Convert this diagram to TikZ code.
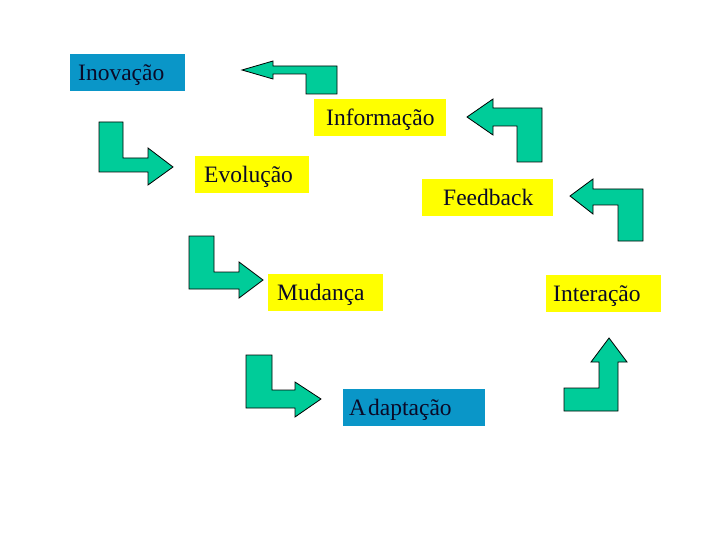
\documentclass[tikz,border=0pt]{standalone}
\usepackage{fontspec}
\setmainfont{Liberation Serif}
\newfontfamily\tnr{Liberation Serif}
\definecolor{arrowgreen}{RGB}{0,204,153}
\definecolor{boxyellow}{RGB}{255,255,0}
\definecolor{boxblue}{RGB}{10,150,200}
\definecolor{textdark}{RGB}{10,10,40}
\tikzset{
  tbox/.style n args={3}{fill=#1, anchor=north west, inner sep=0pt,
     text width=#2, minimum height=37pt, text height=16pt, text depth=0pt,
     align=left, text=textdark, font=\tnr\fontsize{23.5}{28}\selectfont, execute at begin node={\hspace*{#3}}},
  barrow/.style={fill=arrowgreen, draw=black, line width=0.8pt, line join=miter}
}
\begin{document}
\begin{tikzpicture}[x=1pt,y=-1pt]
\useasboundingbox (0,0) rectangle (720,540);
% boxes
\node[tbox={boxblue}{115pt}{8pt}] (inov) at (70,54) {\mbox{Inovação}};
\node[tbox={boxyellow}{132pt}{12pt}] (info) at (314,99) {\mbox{Informação}};
\node[tbox={boxyellow}{114pt}{9pt}] (evol) at (195,156) {\mbox{Evolução}};
\node[tbox={boxyellow}{131pt}{21pt}] (feed) at (422,179) {\mbox{Feedback}};
\node[tbox={boxyellow}{115pt}{9pt}] (muda) at (268,274) {\mbox{Mudança}};
\node[tbox={boxblue}{142pt}{6pt}] (adap) at (343,389) {\mbox{A\kern2pt daptação}};
\node[tbox={boxyellow}{115pt}{7pt}] (inter) at (546,275) {\mbox{Interação}};
% bent block arrows
\draw[barrow] (242,70) -- (273,61) -- (273,66) -- (337,66) -- (337,94) -- (306,94) -- (306,74) -- (273,74) -- (273,79) -- cycle;
\draw[barrow] (467,117) -- (493,99) -- (493,108) -- (542,108) -- (542,162) -- (517,162) -- (517,126) -- (493,126) -- (493,135) -- cycle;
\draw[barrow] (570,196) -- (593,179) -- (593,189) -- (643,189) -- (643,241) -- (618,241) -- (618,205) -- (593,205) -- (593,214) -- cycle;
\draw[barrow] (609,338) -- (627,362) -- (618,362) -- (618,411) -- (564,411) -- (564,388) -- (599,388) -- (599,362) -- (591,362) -- cycle;
\draw[barrow] (99,122) -- (123,122) -- (123,158) -- (148,158) -- (148,148) -- (173,167) -- (148,185) -- (148,172) -- (99,172) -- cycle;
\draw[barrow] (189,236) -- (214,236) -- (214,272) -- (239,272) -- (239,262) -- (263,280) -- (239,298) -- (239,289) -- (189,289) -- cycle;
\draw[barrow] (246,355) -- (272,355) -- (272,390) -- (295,390) -- (295,382) -- (321,399) -- (295,417) -- (295,408) -- (246,408) -- cycle;
\end{tikzpicture}
\end{document}
